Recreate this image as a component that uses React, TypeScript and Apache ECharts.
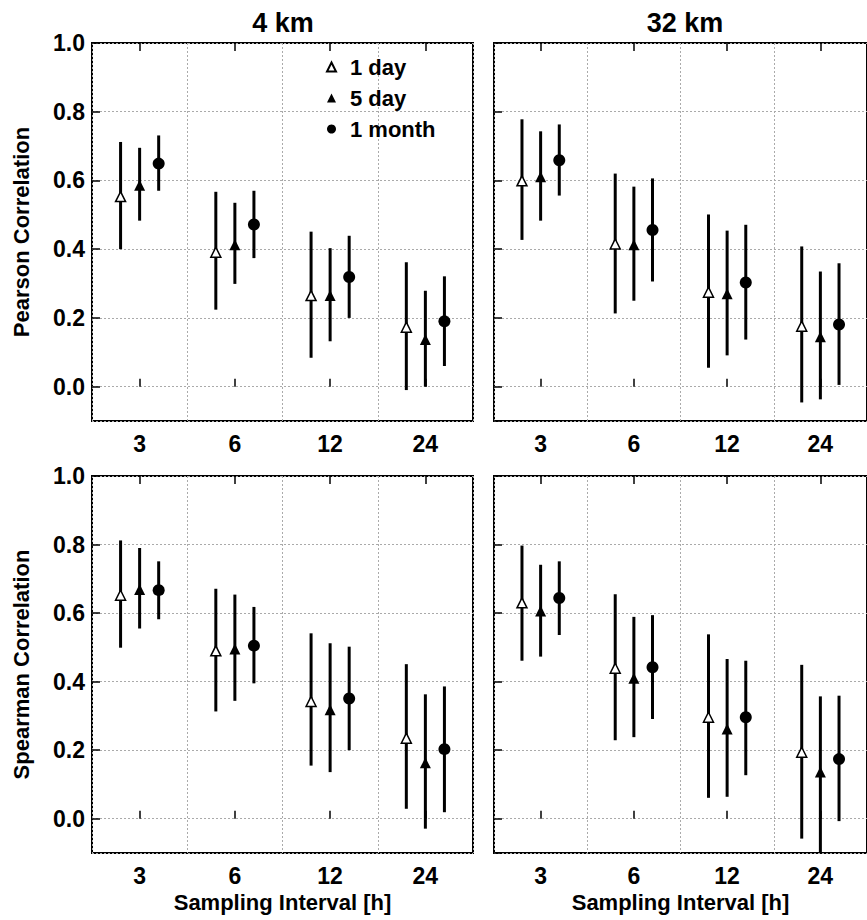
import React, { useEffect, useRef } from "react";
import * as echarts from "echarts";

// Sampling intervals (category labels)
const categories = ["3", "6", "12", "24"];
const seriesNames = ["1 day", "5 day", "1 month"];
const panelTitles = ["4 km", "32 km"];
const yNames = ["Pearson Correlation", "Spearman Correlation"];
const xName = "Sampling Interval [h]";

// Each entry: [mean, lower, upper] per sampling interval
// Pearson, 4 km
const pearson4_1day = [[0.553, 0.400, 0.712], [0.391, 0.224, 0.567], [0.265, 0.084, 0.451], [0.173, -0.010, 0.362]];
const pearson4_5day = [[0.586, 0.483, 0.695], [0.413, 0.299, 0.535], [0.265, 0.132, 0.403], [0.137, 0.000, 0.279]];
const pearson4_1month = [[0.649, 0.570, 0.731], [0.472, 0.374, 0.570], [0.319, 0.200, 0.439], [0.190, 0.060, 0.321]];
// Pearson, 32 km
const pearson32_1day = [[0.599, 0.427, 0.778], [0.415, 0.213, 0.620], [0.275, 0.055, 0.501], [0.176, -0.046, 0.408]];
const pearson32_5day = [[0.611, 0.483, 0.743], [0.413, 0.250, 0.582], [0.270, 0.091, 0.454], [0.145, -0.037, 0.335]];
const pearson32_1month = [[0.659, 0.556, 0.763], [0.456, 0.306, 0.606], [0.303, 0.137, 0.471], [0.181, 0.005, 0.359]];
// Spearman, 4 km
const spearman4_1day = [[0.652, 0.499, 0.812], [0.490, 0.313, 0.671], [0.342, 0.155, 0.541], [0.235, 0.029, 0.451]];
const spearman4_5day = [[0.669, 0.555, 0.790], [0.495, 0.344, 0.654], [0.318, 0.136, 0.512], [0.163, -0.029, 0.363]];
const spearman4_1month = [[0.667, 0.582, 0.751], [0.505, 0.395, 0.618], [0.351, 0.200, 0.502], [0.203, 0.019, 0.386]];
// Spearman, 32 km
const spearman32_1day = [[0.630, 0.461, 0.797], [0.439, 0.229, 0.655], [0.296, 0.061, 0.538], [0.194, -0.058, 0.449]];
const spearman32_5day = [[0.606, 0.473, 0.741], [0.410, 0.238, 0.589], [0.262, 0.064, 0.466], [0.136, -0.100, 0.357]];
const spearman32_1month = [[0.644, 0.536, 0.751], [0.442, 0.291, 0.594], [0.296, 0.127, 0.461], [0.174, -0.007, 0.359]];

const panels = [
  [pearson4_1day, pearson4_5day, pearson4_1month],
  [pearson32_1day, pearson32_5day, pearson32_1month],
  [spearman4_1day, spearman4_5day, spearman4_1month],
  [spearman32_1day, spearman32_5day, spearman32_1month],
];

const FONT = "Liberation Sans, Arial, sans-serif";

export default function App() {
  const ref = useRef<HTMLDivElement>(null);
  useEffect(() => {
    document.body.style.margin = "0";
    if (!ref.current) return;
    const chart = echarts.init(ref.current, null, { renderer: "svg" });

    const gridPos = [
      { left: 92, top: 43, width: 381, height: 378 },
      { left: 494, top: 43, width: 381, height: 378 },
      { left: 92, top: 476, width: 381, height: 377 },
      { left: 494, top: 476, width: 381, height: 377 },
    ];
    const offsets = [-0.2, 0, 0.2];
    const gridLine = { color: "#aaa", width: 1, type: [2, 2] as any };

    const grids: any[] = [];
    const xAxes: any[] = [];
    const yAxes: any[] = [];
    const series: any[] = [];

    gridPos.forEach((g, i) => {
      const isLeft = i % 2 === 0;
      const isBottom = i >= 2;
      grids.push({ ...g, show: true, borderColor: "#000", borderWidth: 2, backgroundColor: "transparent" });
      xAxes.push({
        type: "category",
        gridIndex: i,
        position: "bottom",
        data: categories,
        boundaryGap: true,
        axisLine: { show: false },
        axisTick: { show: true, inside: true, alignWithLabel: true, length: 8, lineStyle: { color: "#000", width: 1.5 } },
        axisLabel: { color: "#000", fontFamily: FONT, fontWeight: "bold", fontSize: 23, margin: 11 },
        splitLine: { show: true, lineStyle: gridLine },
        name: isBottom ? xName : "",
        nameLocation: "middle",
        nameGap: 38,
        nameTextStyle: { color: "#000", fontFamily: FONT, fontWeight: "bold", fontSize: 22 },
      });
      xAxes.push({
        type: "category",
        gridIndex: i,
        position: "top",
        data: categories,
        boundaryGap: true,
        axisLine: { show: false },
        axisTick: { show: true, inside: true, alignWithLabel: true, length: 8, lineStyle: { color: "#000", width: 1.5 } },
        axisLabel: { show: false },
        splitLine: { show: false },
      });
      xAxes.push({ type: "value", gridIndex: i, min: 0.5, max: 4.5, show: false });
      yAxes.push({
        type: "value",
        gridIndex: i,
        min: -0.1,
        max: 1.0,
        splitNumber: 5,
        axisLine: { show: false },
        axisTick: { show: true, inside: true, length: 8, lineStyle: { color: "#000", width: 1.5 } },
        axisLabel: {
          show: isLeft,
          showMinLabel: false,
          color: "#000",
          fontFamily: FONT,
          fontWeight: "bold",
          fontSize: 23,
          margin: 7,
          formatter: (v: number) => v.toFixed(1),
        },
        splitLine: { show: true, lineStyle: gridLine },
        name: isLeft ? yNames[isBottom ? 1 : 0] : "",
        nameLocation: "middle",
        nameGap: 60,
        nameTextStyle: { color: "#000", fontFamily: FONT, fontWeight: "bold", fontSize: 22 },
      });

      const xIdx = i * 3 + 2;
      panels[i].forEach((arr, s) => {
        const bars = arr.map((d, c) => [c + 1 + offsets[s], d[1], d[2]]);
        series.push({
          type: "custom",
          xAxisIndex: xIdx,
          yAxisIndex: i,
          data: bars,
          silent: true,
          z: 2,
          renderItem: (params: any, api: any) => {
            const p1 = api.coord([api.value(0), api.value(1)]);
            const p2 = api.coord([api.value(0), api.value(2)]);
            return {
              type: "line",
              shape: { x1: p1[0], y1: p1[1], x2: p2[0], y2: p2[1] },
              style: { stroke: "#000", lineWidth: 3 },
            };
          },
        });
      });
      panels[i].forEach((arr, s) => {
        const pts = arr.map((d, c) => [c + 1 + offsets[s], d[0]]);
        const style =
          s === 0
            ? { symbol: "triangle", symbolSize: 10, itemStyle: { color: "#fff", borderColor: "#000", borderWidth: 1.5, opacity: 1 } }
            : s === 1
            ? { symbol: "triangle", symbolSize: 11, itemStyle: { color: "#000", opacity: 1 } }
            : { symbol: "circle", symbolSize: 12, itemStyle: { color: "#000", opacity: 1 } };
        series.push({
          type: "scatter",
          name: seriesNames[s],
          xAxisIndex: xIdx,
          yAxisIndex: i,
          data: pts,
          z: 5,
          ...style,
        });
      });
    });

    chart.setOption({
      animation: false,
      backgroundColor: "#fff",
      textStyle: { fontFamily: FONT },
      grid: grids,
      xAxis: xAxes,
      yAxis: yAxes,
      legend: {
        data: seriesNames,
        orient: "vertical",
        left: 321,
        top: 51,
        itemWidth: 9,
        itemHeight: 9,
        itemGap: 9,
        textStyle: { color: "#000", fontFamily: FONT, fontWeight: "bold", fontSize: 22, lineHeight: 22, padding: [0, 0, 0, 9] },
        selectedMode: false,
      },
      graphic: [
        {
          type: "text",
          x: 283,
          y: 23,
          style: { text: panelTitles[0], font: `bold 27px ${FONT}`, fill: "#000", textAlign: "center", textVerticalAlign: "middle" },
        },
        {
          type: "text",
          x: 685,
          y: 23,
          style: { text: panelTitles[1], font: `bold 27px ${FONT}`, fill: "#000", textAlign: "center", textVerticalAlign: "middle" },
        },
      ],
      series,
    });
    return () => chart.dispose();
  }, []);
  return <div ref={ref} style={{ width: 867, height: 920 }} />;
}
